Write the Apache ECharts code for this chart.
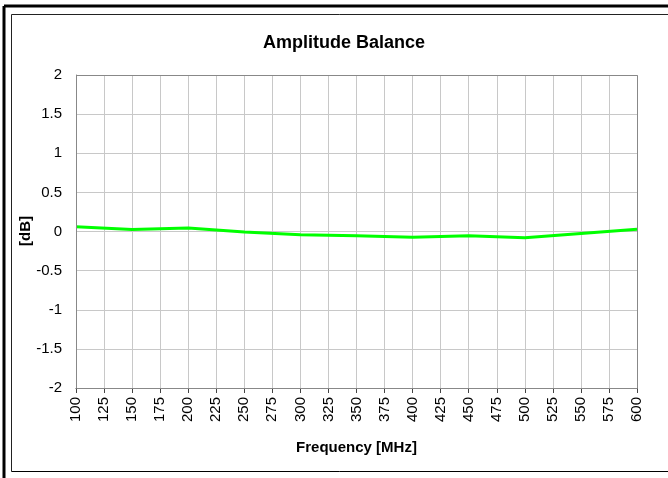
<!DOCTYPE html>
<html>
<head>
<meta charset="utf-8">
<script src="https://cdn.jsdelivr.net/npm/echarts@6/dist/echarts.min.js"></script>
<style>
html,body{margin:0;padding:0;background:#fff;}
#chart{width:668px;height:478px;}
</style>
</head>
<body>
<div id="chart"></div>
<script>
const frequencies = [100, 150, 200, 250, 300, 350, 400, 450, 500, 550, 600];
const balanceDb = [0.06, 0.025, 0.045, -0.005, -0.04, -0.055, -0.075, -0.055, -0.08, -0.025, 0.03];
const titleText = 'Amplitude Balance';
const xName = 'Frequency [MHz]';
const yName = '[dB]';

const chart = echarts.init(document.getElementById('chart'), null, {renderer: 'canvas'});
const font = 'Liberation Sans, Arial, sans-serif';
chart.setOption({
  animation: false,
  backgroundColor: '#fff',
  graphic: [
    {type: 'line', shape: {x1: 4, y1: 6, x2: 668, y2: 6}, style: {stroke: '#000', lineWidth: 3}},
    {type: 'line', shape: {x1: 4, y1: 6, x2: 4, y2: 478}, style: {stroke: '#000', lineWidth: 3}},
    {type: 'line', shape: {x1: 11.5, y1: 14.5, x2: 668, y2: 14.5}, style: {stroke: '#222', lineWidth: 1}},
    {type: 'line', shape: {x1: 11.5, y1: 14.5, x2: 11.5, y2: 471.5}, style: {stroke: '#222', lineWidth: 1}},
    {type: 'line', shape: {x1: 11.5, y1: 471.5, x2: 668, y2: 471.5}, style: {stroke: '#000', lineWidth: 1}},
    {type: 'rect', shape: {x: 76.5, y: 75.5, width: 561, height: 313}, style: {fill: 'none', stroke: '#888', lineWidth: 1}, z: 10},
    {type: 'text', left: 263, top: 34, style: {text: titleText, font: 'bold 18px Liberation Sans, Arial, sans-serif', fill: '#000'}},
    {type: 'text', x: 26, y: 231, rotation: Math.PI / 2, style: {text: yName, font: 'bold 15px Liberation Sans, Arial, sans-serif', fill: '#000', align: 'center', verticalAlign: 'middle'}}
  ],
  grid: {left: 76, right: 31, top: 75, bottom: 90, containLabel: false},
  xAxis: {
    type: 'value', min: 100, max: 600, interval: 25,
    name: xName, nameLocation: 'middle', nameGap: 52,
    nameTextStyle: {fontFamily: font, fontSize: 15, fontWeight: 'bold', color: '#000'},
    axisLine: {show: true, onZero: false, lineStyle: {color: '#444', width: 1}},
    axisTick: {show: true, length: 5, lineStyle: {color: '#444'}},
    axisLabel: {rotate: 90, margin: 9, fontFamily: font, fontSize: 15, color: '#000'},
    splitLine: {show: true, lineStyle: {color: '#c8c8c8', width: 1}}
  },
  yAxis: {
    type: 'value', min: -2, max: 2, interval: 0.5,
    axisLine: {show: true, onZero: false, lineStyle: {color: '#888', width: 1}},
    axisTick: {show: false},
    axisLabel: {margin: 14, fontFamily: font, fontSize: 15, color: '#000'},
    splitLine: {show: true, lineStyle: {color: '#c8c8c8', width: 1}}
  },
  series: [{
    type: 'line',
    data: frequencies.map((f, i) => [f, balanceDb[i]]),
    showSymbol: false, symbol: 'none',
    lineStyle: {color: '#00ff00', width: 3},
    z: 5
  }]
});
</script>
</body>
</html>
